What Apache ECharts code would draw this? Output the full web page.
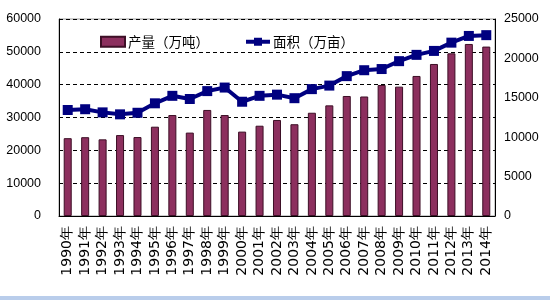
<!DOCTYPE html>
<html><head><meta charset="utf-8">
<script src="https://cdn.jsdelivr.net/npm/echarts@6/dist/echarts.min.js"></script>
<style>html,body{margin:0;padding:0;background:#fff}#c{width:550px;height:300px}</style>
</head><body><div id="c"></div>
<script>
var years = ['1990年','1991年','1992年','1993年','1994年','1995年','1996年','1997年','1998年','1999年','2000年','2001年','2002年','2003年','2004年','2005年','2006年','2007年','2008年','2009年','2010年','2011年','2012年','2013年','2014年'];
var production = [23700,24000,23350,24650,24050,27200,30750,25400,32300,30750,25700,27500,29250,27950,31450,33700,36550,36400,39900,39400,42650,46300,49550,52400,51600];
var area = [13450,13550,13150,12900,13100,14300,15250,14850,15850,16300,14500,15250,15400,14950,16100,16550,17750,18500,18650,19650,20450,20950,22000,22850,22950];
var nameProd = '产量（万吨）';
var nameArea = '面积（万亩）';
var leftTicks = {min:0, max:60000, interval:10000};
var rightTicks = {min:0, max:25000, interval:5000};

var chart = echarts.init(document.getElementById('c'));
var labelFont = {fontFamily:'Liberation Sans', fontSize:12.5, color:'#000', formatter:function(v){return String(v);}};
chart.setOption({
  animation:false,
  backgroundColor:'#fff',
  grid:{left:59, right:55, top:19, bottom:84, show:true, borderColor:'#9a9a9a', borderWidth:1, backgroundColor:'transparent'},
  legend:{
    left:95, top:30, itemWidth:24, itemHeight:10, itemGap:35,
    textStyle:{fontFamily:'Noto Sans CJK SC', fontSize:13.5, color:'#000', padding:[0,0,0,-2]},
    data:[{name:nameProd, icon:'rect'},{name:nameArea, lineStyle:{width:4, color:'#000080'}}]
  },
  xAxis:{
    type:'category', data:years, boundaryGap:true,
    axisLine:{lineStyle:{color:'#000', width:1}},
    axisTick:{inside:true, length:5, lineStyle:{color:'#000'}},
    axisLabel:{rotate:90, interval:0, fontFamily:'DejaVu Sans', fontSize:14, color:'#000', margin:10}
  },
  yAxis:[
    {type:'value', min:leftTicks.min, max:leftTicks.max, interval:leftTicks.interval,
     axisLine:{show:true, lineStyle:{color:'#000'}}, axisTick:{show:false},
     axisLabel:Object.assign({margin:18}, labelFont),
     splitLine:{show:true, lineStyle:{color:'#000', type:[4,3], width:1}}},
    {type:'value', min:rightTicks.min, max:rightTicks.max, interval:rightTicks.interval,
     axisLine:{show:true, lineStyle:{color:'#000'}}, axisTick:{show:false},
     axisLabel:Object.assign({margin:9}, labelFont),
     splitLine:{show:false}}
  ],
  series:[
    {name:nameProd, type:'bar', data:production, yAxisIndex:0, barWidth:'46%',
     itemStyle:{color:'#8c2f5e', borderColor:'#3d0f26', borderWidth:1}},
    {name:nameArea, type:'line', data:area, yAxisIndex:1,
     symbol:'rect', symbolSize:10,
     lineStyle:{color:'#000080', width:4},
     itemStyle:{color:'#000080'}}
  ],
  graphic:[{type:'rect', shape:{x:0, y:296, width:550, height:4}, style:{fill:'#b9cdeb'}}]
});
</script></body></html>
